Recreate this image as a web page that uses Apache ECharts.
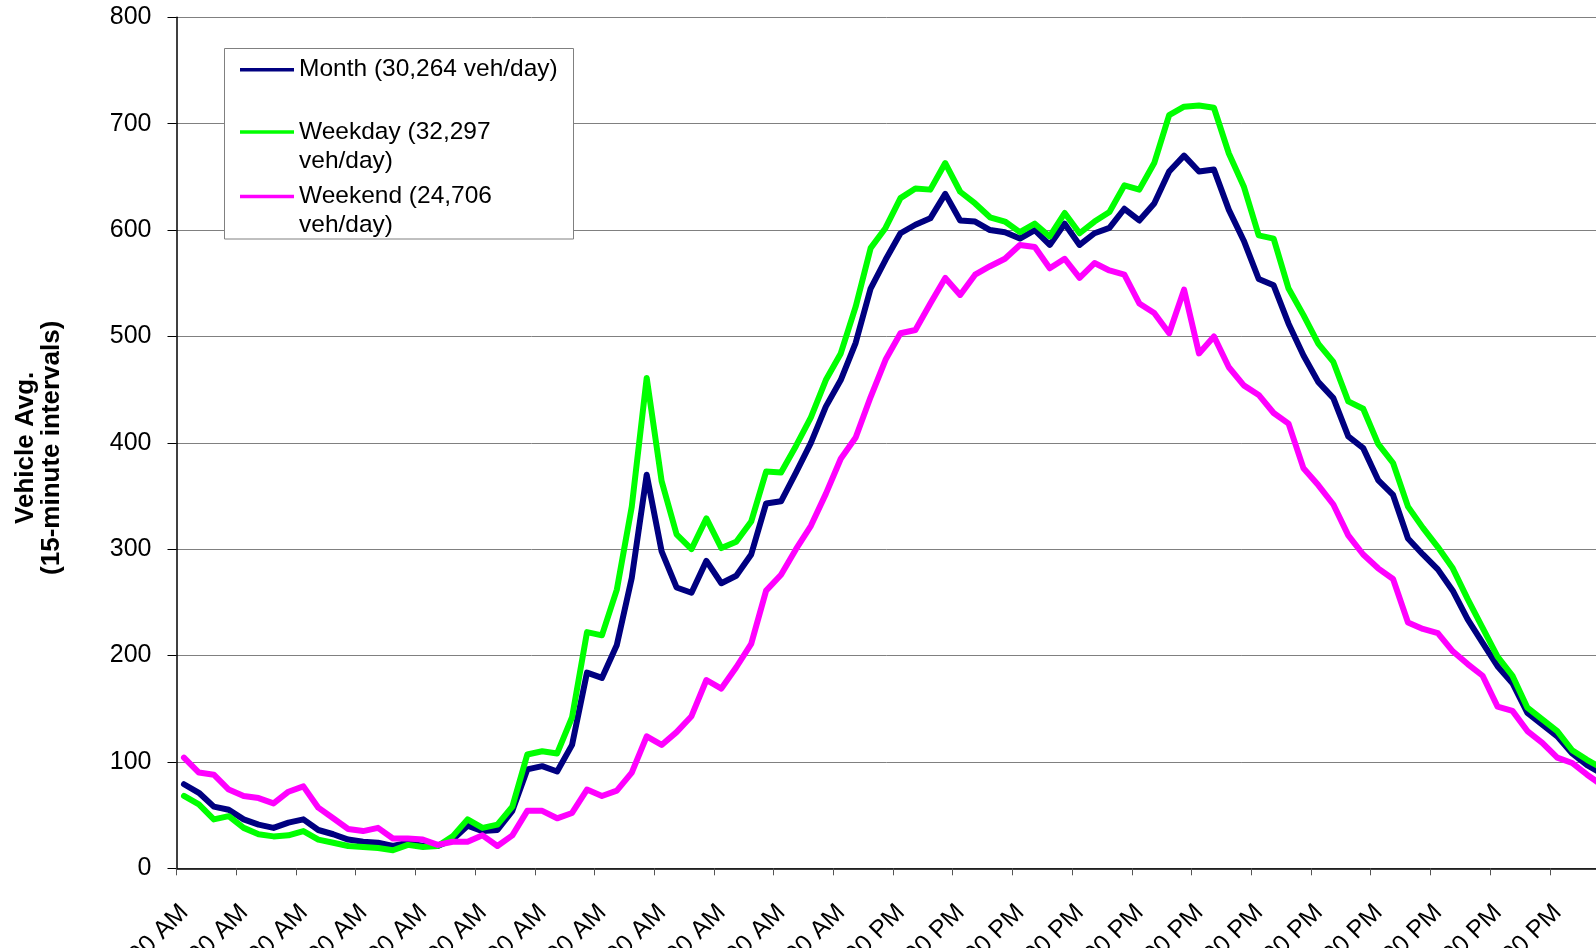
<!DOCTYPE html>
<html>
<head>
<meta charset="utf-8">
<script src="https://cdn.jsdelivr.net/npm/echarts@6/dist/echarts.min.js"></script>
<style>
html,body{margin:0;padding:0;background:#fff;}
#chart{width:1596px;height:948px;}
</style>
</head>
<body>
<div id="chart"></div>
<script>
const tickLabels = ['12:00 AM','1:00 AM','2:00 AM','3:00 AM','4:00 AM','5:00 AM','6:00 AM','7:00 AM','8:00 AM','9:00 AM','10:00 AM','11:00 AM',
  '12:00 PM','1:00 PM','2:00 PM','3:00 PM','4:00 PM','5:00 PM','6:00 PM','7:00 PM','8:00 PM','9:00 PM','10:00 PM','11:00 PM'];
const minuteMarks = ['00','15','30','45'];
const categories = tickLabels.flatMap(t => minuteMarks.map(m => t.replace(':00', ':' + m)));

const seriesNames = ['Month (30,264 veh/day)', 'Weekday (32,297 veh/day)', 'Weekend (24,706 veh/day)'];
const legendTexts = ['Month (30,264 veh/day)', ' \nWeekday (32,297\nveh/day)', ' \nWeekend (24,706\nveh/day)'];

const month = [79,71,58,55,46,41,38,43,46,36,32,27,25,24,21,24,21,21,27,40,35,36,54,93,
  96,91,116,184,179,210,273,370,298,264,259,289,268,275,295,343,345,372,400,434,459,494,545,572,
  597,605,611,634,609,608,600,598,592,600,586,606,586,597,602,620,609,625,655,670,655,657,619,590,
  554,548,512,482,457,442,406,395,365,351,310,295,281,261,234,212,190,174,146,135,124,108,97,89];
const weekday = [68,60,46,49,38,32,30,31,35,27,24,21,20,19,17,22,20,21,30,46,38,41,58,107,
  110,108,142,222,219,262,340,461,364,314,300,329,301,307,326,373,372,397,424,459,484,528,583,602,
  630,639,638,663,636,625,612,608,598,606,594,616,597,608,617,642,638,663,708,716,717,715,672,641,
  595,592,545,520,493,476,439,432,399,381,340,320,302,282,253,226,199,181,151,140,129,111,102,94];
const weekend = [104,90,88,74,68,66,61,72,77,57,47,37,35,38,28,28,27,22,25,25,31,21,31,54,
  54,47,52,74,68,73,90,124,116,128,143,177,169,189,211,261,276,300,322,352,385,405,443,478,
  503,506,531,555,539,558,566,573,586,584,564,573,555,569,562,558,531,522,503,544,484,500,471,454,
  445,428,418,376,360,342,313,295,282,272,231,225,221,204,192,181,152,148,129,118,104,99,88,78];

const colors = ['#000080', '#00FF00', '#FF00FF'];
const FONT = 'Liberation Sans, Arial, sans-serif';

const chart = echarts.init(document.getElementById('chart'), null, {renderer: 'canvas'});

const legendTops = [55.3, 89, 153.5];
const legends = seriesNames.map((n, k) => ({
  data: [n],
  orient: 'vertical',
  left: 240,
  top: legendTops[k],
  padding: 0,
  itemWidth: 54,
  itemHeight: 14,
  itemGap: 0,
  selectedMode: false,
  icon: 'path://M0,0 L54,0 L54,3.5 L0,3.5 Z',
  itemStyle: {color: colors[k], borderWidth: 0},
  formatter: () => legendTexts[k],
  textStyle: {fontSize: 24.5, lineHeight: 28.7, color: '#000', fontFamily: FONT},
  z: 5
}));

chart.setOption({
  animation: false,
  backgroundColor: '#fff',
  grid: {left: 176.5, top: 17.3, width: 1433, height: 851, containLabel: false, outerBoundsMode: 'none'},
  legend: legends,
  graphic: [{
    type: 'rect',
    z: 3,
    shape: {x: 224.5, y: 48.5, width: 349, height: 190.5},
    style: {fill: '#fff', stroke: '#808080', lineWidth: 1}
  }],
  xAxis: {
    type: 'category',
    data: categories,
    boundaryGap: true,
    axisLine: {show: true, lineStyle: {color: '#000', width: 1.5}},
    axisTick: {show: true, interval: 3, length: 7, lineStyle: {color: '#555'}},
    axisLabel: {
      interval: 3, rotate: 45, align: 'right', verticalAlign: 'top', margin: 23,
      padding: [0, 12, 0, 0],
      fontSize: 25, color: '#000', fontFamily: FONT
    },
    splitLine: {show: false}
  },
  yAxis: {
    type: 'value',
    min: 0, max: 800, interval: 100,
    name: 'Vehicle Avg.\n(15-minute intervals)',
    nameLocation: 'middle',
    nameRotate: 90,
    nameGap: 112,
    nameTextStyle: {fontSize: 26, fontWeight: 'bold', color: '#000', fontFamily: FONT, lineHeight: 26, align: 'center', padding: [0, 10, 0, 0]},
    axisLine: {show: true, lineStyle: {color: '#000', width: 1.5}},
    axisTick: {show: true, length: 9, lineStyle: {color: '#000'}},
    axisLabel: {fontSize: 25, color: '#000', margin: 25, fontFamily: FONT, padding: [4, 0, 0, 0]},
    splitLine: {show: true, lineStyle: {color: '#808080', width: 1}}
  },
  series: [month, weekday, weekend].map((d, k) => ({
    name: seriesNames[k],
    type: 'line',
    data: d,
    symbol: 'none',
    color: colors[k],
    lineStyle: {color: colors[k], width: 6, join: 'round', cap: 'round'},
    emphasis: {disabled: true},
    z: 2
  }))
});
</script>
</body>
</html>
